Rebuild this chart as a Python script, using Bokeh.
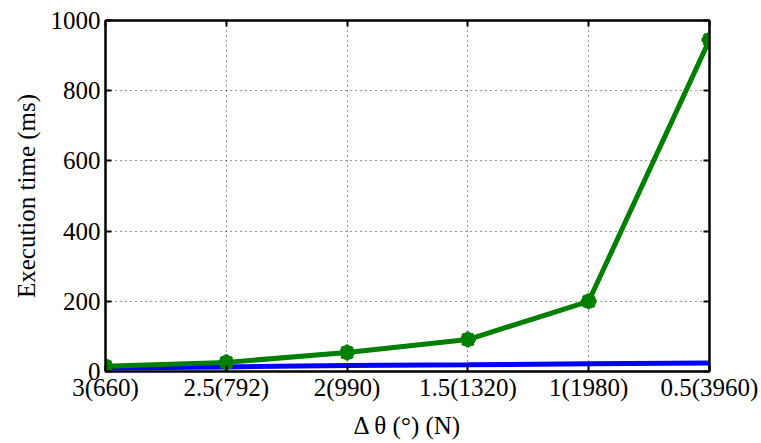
from bokeh.plotting import figure
from bokeh.models import Range1d, FixedTicker, LinearAxis
from bokeh.embed import file_html
from bokeh.resources import INLINE

categories = ["3(660)", "2.5(792)", "2(990)", "1.5(1320)", "1(1980)", "0.5(3960)"]
green_vals = [15, 26, 54, 91, 200, 945]
blue_vals = [10, 13, 17, 19, 22, 24]
y_ticks = [0, 200, 400, 600, 800, 1000]

xs = list(range(1, len(categories) + 1))
FONT = "Liberation Serif"

p = figure(width=761, height=443, output_backend="svg", toolbar_location=None,
           x_range=Range1d(1, 6), y_range=Range1d(0, 1000),
           min_border_left=105, min_border_right=52, min_border_top=20, min_border_bottom=72)
p.background_fill_color = "white"
p.border_fill_color = "white"
p.outline_line_color = "black"
p.outline_line_width = 2
p.outline_line_alpha = 1

p.line(xs, blue_vals, line_color="#0000FF", line_width=5)
p.line(xs, green_vals, line_color="#007F00", line_width=5)
p.scatter(xs, green_vals, marker="circle", size=14, fill_color="#007F00", line_color="#007F00")
p.scatter(xs, green_vals, marker="asterisk", size=16, line_color="#007F00", line_width=3)

p.xaxis.ticker = FixedTicker(ticks=xs)
p.xaxis.major_label_overrides = {x: c for x, c in zip(xs, categories)}
p.yaxis.ticker = FixedTicker(ticks=y_ticks)

for ax in (p.xaxis[0], p.yaxis[0]):
    ax.axis_line_width = 2
    ax.axis_line_color = "black"
    ax.major_tick_in = 6
    ax.major_tick_out = 0
    ax.minor_tick_line_color = None
    ax.major_tick_line_width = 2
    ax.major_label_text_font = FONT
    ax.major_label_text_font_size = "25px"
    ax.major_label_text_color = "black"
    ax.axis_label_text_font = FONT
    ax.axis_label_text_font_size = "25px"
    ax.axis_label_text_font_style = "normal"
    ax.axis_label_text_color = "black"

p.xaxis.axis_label = "Δ θ (°) (N)"
p.yaxis.axis_label = "Execution time (ms)"
p.xaxis.major_label_standoff = 2
p.yaxis.major_label_standoff = 5
p.xaxis.axis_label_standoff = 8
p.yaxis.axis_label_standoff = 8

for loc in ("right", "above"):
    ax = LinearAxis(ticker=FixedTicker(ticks=(y_ticks if loc == "right" else xs)))
    ax.major_label_overrides = {t: "" for t in (y_ticks if loc == "right" else xs)}
    ax.major_label_text_color = None
    ax.major_tick_in = 6
    ax.major_tick_out = 0
    ax.major_tick_line_width = 2
    ax.minor_tick_line_color = None
    ax.axis_line_width = 2
    ax.major_label_standoff = 0
    p.add_layout(ax, loc)

p.xgrid.ticker = FixedTicker(ticks=xs)
p.ygrid.ticker = FixedTicker(ticks=y_ticks)
for g in (p.xgrid[0], p.ygrid[0]):
    g.grid_line_color = "black"
    g.grid_line_dash = "1 4"
    g.grid_line_width = 1
    g.grid_line_alpha = 0.8

open("out.html", "w").write(file_html(p, INLINE))
